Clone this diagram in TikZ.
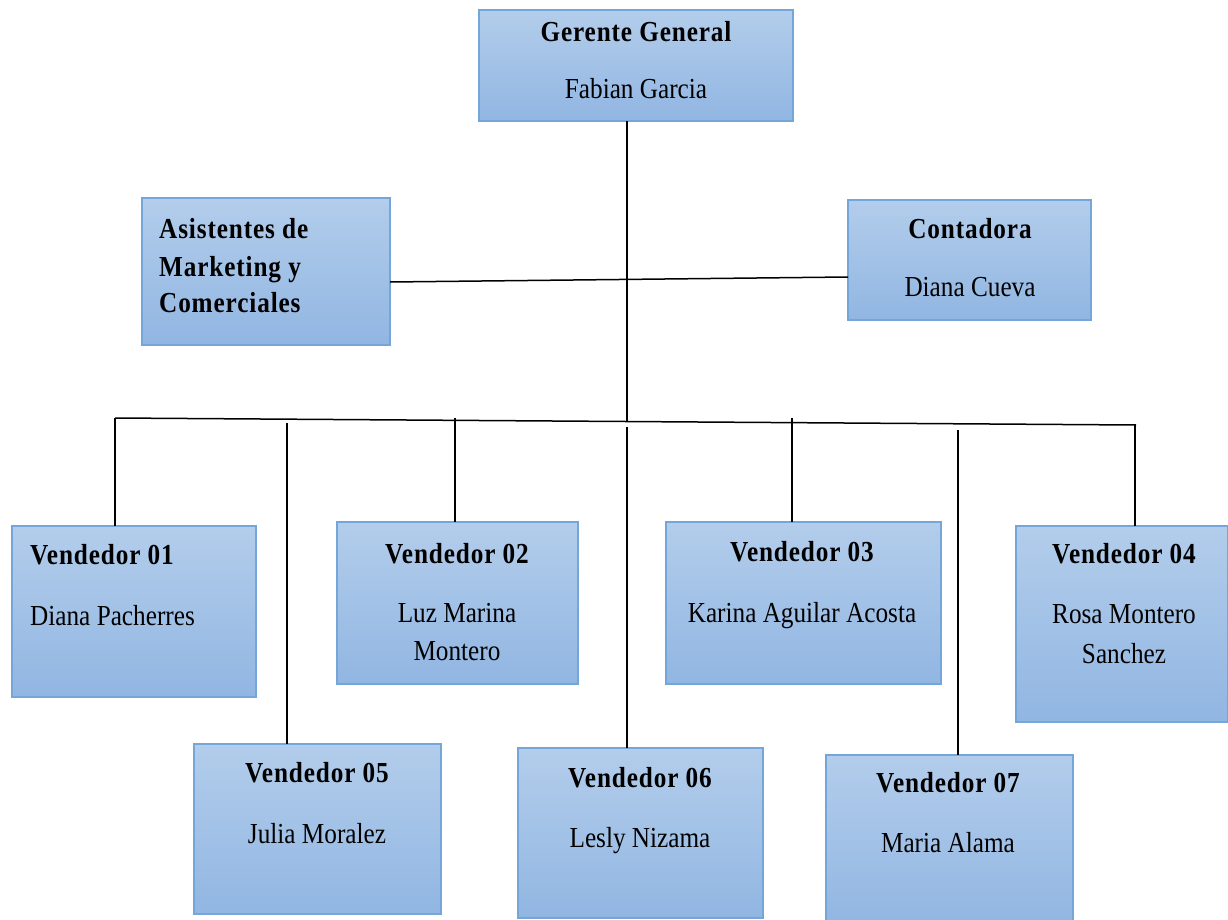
\documentclass[tikz,border=0pt]{standalone}
\usepackage{fontspec}
\setmainfont{Liberation Serif}[FakeStretch=0.87,BoldFeatures={LetterSpace=3}]
\definecolor{boxtop}{HTML}{B3CDEB}
\definecolor{boxbot}{HTML}{91B6E2}
\definecolor{boxline}{HTML}{74A6DA}
\usetikzlibrary{fit}
\tikzset{
  orgbox/.style={draw=boxline, line width=1.5pt, top color=boxtop, bottom color=boxbot, minimum width=0pt, minimum height=0pt, inner sep=0pt},
  ttl/.style={font=\fontsize{29}{36}\selectfont\bfseries, inner sep=0pt, anchor=base},
  nm/.style={font=\fontsize{29}{36}\selectfont, inner sep=0pt, anchor=base},
  conn/.style={draw=black, line width=1.5pt}
}
\newcommand{\orgrect}[5]{\path[orgbox] (#2,#3) rectangle (#4,#5) coordinate (#1-se); \coordinate (#1-nw) at (#2,#3);
  \node[inner sep=0pt, fit=(#1-nw)(#1-se)] (#1) {};}
\begin{document}
\begin{tikzpicture}[x=1pt,y=-1pt]
\useasboundingbox (0,0) rectangle (1228,920);
% boxes
\orgrect{g}{479}{10}{793}{121}
\orgrect{asis}{142}{198}{390}{345}
\orgrect{cont}{848}{200}{1091}{320}
\orgrect{v1}{12}{526}{256}{697}
\orgrect{v2}{337}{522}{578}{684}
\orgrect{v3}{666}{522}{941}{684}
\orgrect{v4}{1016}{526}{1228}{722}
\orgrect{v5}{194}{744}{441}{914}
\orgrect{v6}{518}{748}{763}{918}
\orgrect{v7}{826}{755}{1073}{925}
% texts
\node[ttl] (gt) at (636,42) {Gerente General};
\node[nm] (gn) at (636,99) {Fabian Garcia};
\node[ttl,anchor=base west] (at1) at (159,238) {Asistentes de};
\node[ttl,anchor=base west] (at2) at (159,276) {Marketing y};
\node[ttl,anchor=base west] (at3) at (159,312) {Comerciales};
\node[ttl] (ct) at (970,238) {Contadora};
\node[nm] (cn) at (970,296) {Diana Cueva};
\node[ttl,anchor=base west] (v1t) at (30,564) {Vendedor 01};
\node[nm,anchor=base west] (v1n) at (30,625) {Diana Pacherres};
\node[ttl] (v2t) at (457,563) {Vendedor 02};
\node[nm] (v2n) at (457,622) {Luz Marina};
\node[nm] (v2m) at (457,660) {Montero};
\node[ttl] (v3t) at (802,561) {Vendedor 03};
\node[nm] (v3n) at (802,622) {Karina Aguilar Acosta};
\node[ttl] (v4t) at (1124,563) {Vendedor 04};
\node[nm] (v4n) at (1124,623) {Rosa Montero};
\node[nm] (v4m) at (1124,663) {Sanchez};
\node[ttl] (v5t) at (317,782) {Vendedor 05};
\node[nm] (v5n) at (317,843) {Julia Moralez};
\node[ttl] (v6t) at (640,787) {Vendedor 06};
\node[nm] (v6n) at (640,847) {Lesly Nizama};
\node[ttl] (v7t) at (948,792) {Vendedor 07};
\node[nm] (v7n) at (948,852) {Maria Alama};
% connectors
\coordinate (busL) at (115,418);
\coordinate (busR) at (1136,425);
\coordinate (trunkB) at (627,421);
\coordinate (d5) at (287,423);
\coordinate (d2) at (455,418);
\coordinate (d6) at (627,427);
\coordinate (d3) at (792,418);
\coordinate (d7) at (958,430);
\coordinate (d4) at (1135,424);
\coordinate (hl) at (390,282);
\coordinate (hr) at (848,277);
\draw[conn] (g.south -| trunkB) -- (trunkB);
\draw[conn] (hl) -- (hr);
\draw[conn] (busL) -- (busR);
\draw[conn] (busL) -- (busL |- v1.north);
\draw[conn] (d5) -- (d5 |- v5.north);
\draw[conn] (d2) -- (d2 |- v2.north);
\draw[conn] (d6) -- (d6 |- v6.north);
\draw[conn] (d3) -- (d3 |- v3.north);
\draw[conn] (d7) -- (d7 |- v7.north);
\draw[conn] (d4) -- (d4 |- v4.north);
\end{tikzpicture}
\end{document}
